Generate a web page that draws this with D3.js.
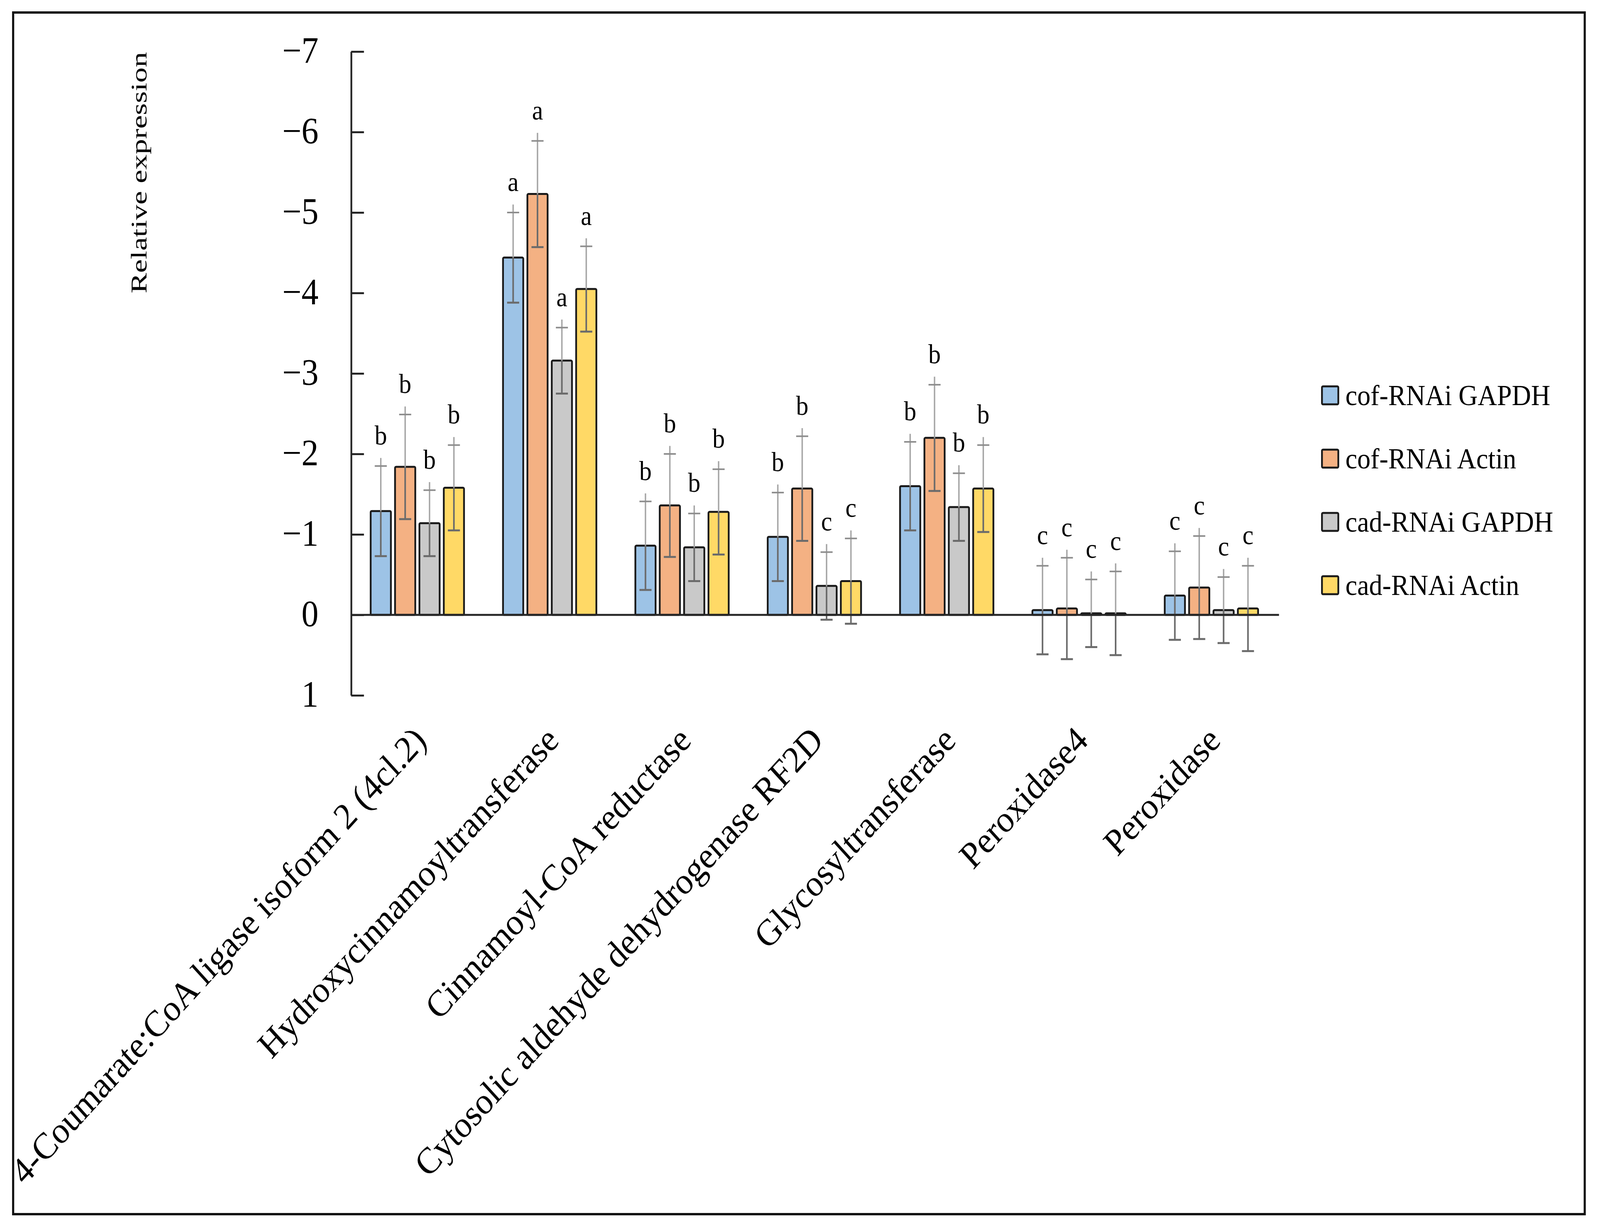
<!DOCTYPE html>
<html>
<head>
<meta charset="utf-8">
<script src="https://cdn.jsdelivr.net/npm/d3@7"></script>
<style>
  html, body { margin: 0; padding: 0; background: #fff; overflow: hidden; }
  svg { display: block; }
  svg text { font-family: "Palatino Linotype", "Book Antiqua", Palatino, "Liberation Serif", serif; fill: #000; }
</style>
</head>
<body>
<div id="chart"></div>
<script>
var categories = ['4-Coumarate:CoA ligase isoform 2 (4cl.2)', 'Hydroxycinnamoyltransferase', 'Cinnamoyl-CoA reductase',
  'Cytosolic aldehyde dehydrogenase RF2D', 'Glycosyltransferase', 'Peroxidase4', 'Peroxidase'];
var seriesNames = ['cof-RNAi GAPDH', 'cof-RNAi Actin', 'cad-RNAi GAPDH', 'cad-RNAi Actin'];

var cofGapdh = [-1.29, -4.44, -0.86, -0.97, -1.60, -0.06, -0.24];
var cofActin = [-1.84, -5.23, -1.36, -1.57, -2.20, -0.08, -0.34];
var cadGapdh = [-1.14, -3.16, -0.84, -0.36, -1.34, -0.02, -0.06];
var cadActin = [-1.58, -4.05, -1.28, -0.42, -1.57, -0.02, -0.08];

var cofGapdhErr = [0.56, 0.56, 0.55, 0.55, 0.55, 0.55, 0.55];
var cofActinErr = [0.65, 0.66, 0.64, 0.65, 0.66, 0.63, 0.64];
var cadGapdhErr = [0.41, 0.41, 0.42, 0.42, 0.42, 0.42, 0.41];
var cadActinErr = [0.53, 0.53, 0.53, 0.53, 0.54, 0.52, 0.53];

var cofGapdhSig = ['b', 'a', 'b', 'b', 'b', 'c', 'c'];
var cofActinSig = ['b', 'a', 'b', 'b', 'b', 'c', 'c'];
var cadGapdhSig = ['b', 'a', 'b', 'c', 'b', 'c', 'c'];
var cadActinSig = ['b', 'a', 'b', 'c', 'b', 'c', 'c'];

var yTicks = [-7, -6, -5, -4, -3, -2, -1, 0, 1];

var colors = ['#9dc3e6', '#f4b183', '#c9c9c9', '#ffd966'];

var values = [cofGapdh, cofActin, cadGapdh, cadActin];
var errs = [cofGapdhErr, cofActinErr, cadGapdhErr, cadActinErr];
var sigs = [cofGapdhSig, cofActinSig, cadGapdhSig, cadActinSig];

var W = 4506, H = 3146;
var serif = '"Palatino Linotype", "Book Antiqua", Palatino, "Liberation Serif", serif';

// the drawing is laid out on a 4506x3146 grid and stretched to the window
var svg = d3.select('#chart').append('svg')
  .attr('width', window.innerWidth)
  .attr('height', window.innerHeight)
  .attr('viewBox', '0 0 ' + W + ' ' + H)
  .attr('preserveAspectRatio', 'none');

svg.append('rect')
  .attr('width', W).attr('height', H)
  .attr('fill', '#fff');

// outer frame
svg.append('rect')
  .attr('x', 37).attr('y', 32)
  .attr('width', 4426).attr('height', 3076)
  .attr('fill', 'none')
  .attr('stroke', '#111')
  .attr('stroke-width', 6);

var x0 = d3.scaleBand().domain(categories).range([989, 3598]);
var x1 = d3.scaleBand().domain(seriesNames).range([0, x0.bandwidth()])
  .paddingInner(0.17).paddingOuter(0.8);
var y = d3.scaleLinear().domain([-7, 1]).range([132, 1780]);

// y axis, ticks pointing inward
var yAxis = svg.append('g')
  .attr('transform', 'translate(989,0)')
  .call(d3.axisLeft(y).tickValues(yTicks).tickSizeInner(-36).tickSizeOuter(0).tickPadding(92));
yAxis.select('.domain').attr('stroke', '#262626').attr('stroke-width', 5);
yAxis.selectAll('.tick line').attr('stroke', '#262626').attr('stroke-width', 5);
yAxis.selectAll('.tick text')
  .attr('font-size', 96)
  .attr('dy', '0.3em')
  .attr('font-family', serif);

svg.append('text')
  .attr('transform', 'translate(412,442) rotate(-90)')
  .attr('text-anchor', 'middle')
  .attr('font-size', 62)
  .attr('textLength', 618)
  .attr('lengthAdjust', 'spacingAndGlyphs')
  .text('Relative expression');

// bars
var rows = [];
categories.forEach(function(c, i) {
  seriesNames.forEach(function(s, j) {
    rows.push({cat: c, series: s, value: values[j][i], err: errs[j][i], sig: sigs[j][i], color: colors[j]});
  });
});

var groups = svg.selectAll('g.bar')
  .data(rows).enter()
  .append('g')
  .attr('class', 'bar')
  .attr('transform', function(d) { return 'translate(' + (x0(d.cat) + x1(d.series)) + ',0)'; });

var bw = x1.bandwidth();
var cap = 17;

groups.append('rect')
  .attr('x', 0)
  .attr('y', function(d) { return y(Math.min(d.value, 0)); })
  .attr('width', bw)
  .attr('height', function(d) { return Math.max(Math.abs(y(d.value) - y(0)), 2); })
  .attr('rx', 3)
  .attr('fill', function(d) { return d.color; })
  .attr('stroke', '#1a1a1a')
  .attr('stroke-width', 5);

// upper (light) error bar
groups.append('line')
  .attr('x1', bw / 2).attr('x2', bw / 2)
  .attr('y1', function(d) { return y(d.value); })
  .attr('y2', function(d) { return y(d.value - d.err - 0.1); })
  .attr('stroke', '#a6a6a6').attr('stroke-width', 4);
groups.append('line')
  .attr('x1', bw / 2 - cap).attr('x2', bw / 2 + cap)
  .attr('y1', function(d) { return y(d.value - d.err); })
  .attr('y2', function(d) { return y(d.value - d.err); })
  .attr('stroke', '#8c8c8c').attr('stroke-width', 4);

// lower (dark) error bar
groups.append('line')
  .attr('x1', bw / 2).attr('x2', bw / 2)
  .attr('y1', function(d) { return y(d.value); })
  .attr('y2', function(d) { return y(d.value + d.err); })
  .attr('stroke', '#6b6b6b').attr('stroke-width', 4.5);
groups.append('line')
  .attr('x1', bw / 2 - cap).attr('x2', bw / 2 + cap)
  .attr('y1', function(d) { return y(d.value + d.err); })
  .attr('y2', function(d) { return y(d.value + d.err); })
  .attr('stroke', '#6b6b6b').attr('stroke-width', 5);

// significance letters
groups.append('text')
  .attr('x', bw / 2)
  .attr('y', function(d) { return y(d.value - d.err) - 55; })
  .attr('text-anchor', 'middle')
  .attr('font-size', 70)
  .text(function(d) { return d.sig; });

// zero line
svg.append('line')
  .attr('x1', x0.range()[0]).attr('x2', x0.range()[1] + 4)
  .attr('y1', y(0)).attr('y2', y(0))
  .attr('stroke', '#262626').attr('stroke-width', 5);

// category labels
var xAxis = svg.append('g')
  .attr('transform', 'translate(0,' + y(1) + ')')
  .call(d3.axisBottom(x0).tickSize(0));
xAxis.select('.domain').remove();
xAxis.selectAll('.tick text')
  .attr('font-size', 95)
  .attr('font-family', serif)
  .attr('text-anchor', 'end')
  .attr('dy', 0)
  .attr('y', 0)
  .attr('transform', 'translate(30,120) rotate(-45)');

// legend
var legend = svg.selectAll('g.legend')
  .data(seriesNames).enter()
  .append('g')
  .attr('class', 'legend')
  .attr('transform', function(d, i) { return 'translate(3723,' + (1012 + i * 162) + ')'; });

legend.append('rect')
  .attr('x', 0).attr('y', -23)
  .attr('width', 46).attr('height', 46)
  .attr('rx', 3)
  .attr('fill', function(d, i) { return colors[i]; })
  .attr('stroke', '#1a1a1a')
  .attr('stroke-width', 5);

legend.append('text')
  .attr('x', 66)
  .attr('y', 25)
  .attr('font-size', 75)
  .text(function(d) { return d; });
</script>
</body>
</html>
